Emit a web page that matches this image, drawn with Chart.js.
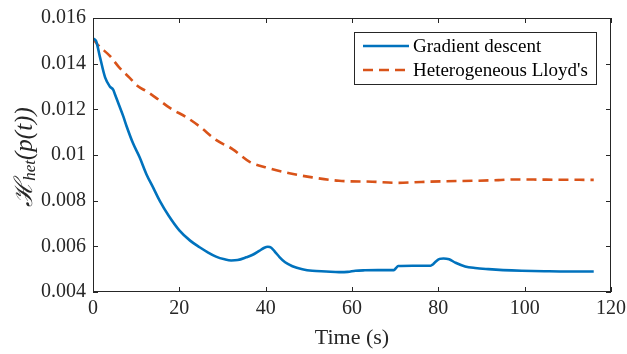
<!DOCTYPE html>
<html>
<head>
<meta charset="utf-8">
<script src="https://cdn.jsdelivr.net/npm/chart.js@4.4.1/dist/chart.umd.min.js"></script>
<style>
  html, body { margin: 0; padding: 0; background: #fff; }
  #wrap { width: 627px; height: 354px; }
</style>
</head>
<body>
<div id="wrap"><canvas id="hetChart" width="627" height="354"></canvas></div>
<script>
// Gradient descent run
const gdTime = [0, 0.7, 1.6, 2.8, 3.9, 4.7, 5.1, 6, 7, 7.8, 9.3, 10.8, 12.4, 14, 15.5, 17.5, 20,
  22.5, 24.7, 26.5, 28.5, 30.5, 32, 33.5, 35.5, 37, 38.5, 39.7, 40.5, 41.3, 42.2, 43.2, 44.5,
  46.2, 48.5, 50.8, 54, 57, 59, 60.8, 63, 66, 69.7, 70.2, 70.7, 74, 78.2, 78.8, 79.5, 80.3,
  81.2, 82.5, 84, 86.2, 88.5, 91.6, 95, 99.3, 105, 110, 116];
const gdValue = [0.01510, 0.01500, 0.01430, 0.01340, 0.01300, 0.01285, 0.01265, 0.01220, 0.01170,
  0.01125, 0.01050, 0.00990, 0.00915, 0.00855, 0.00798, 0.00735, 0.00670,
  0.00625, 0.00596, 0.00575, 0.00555, 0.00543, 0.00538, 0.00540, 0.00552, 0.00563, 0.00580,
  0.00594, 0.00598, 0.00594, 0.00575, 0.00553, 0.00530,
  0.00513, 0.00500, 0.00493, 0.00490, 0.00487, 0.00488, 0.00493, 0.00495, 0.00496, 0.00496,
  0.00505, 0.00514, 0.00515, 0.00515, 0.00522, 0.00535, 0.00545,
  0.00547, 0.00543, 0.00528, 0.00512, 0.00505, 0.00500, 0.00496, 0.00493, 0.00491, 0.00490, 0.00490];

// Heterogeneous Lloyd's run
const lloydTime = [0, 1, 3.9, 6, 8.5, 10.5, 12.4, 15, 17.8, 21.6, 24.7, 28.5, 32.4, 36.2, 40.8,
  45.5, 50.8, 57, 64.7, 70.5, 76, 81.6, 88, 93.9, 97.8, 105, 116];
const lloydValue = [0.01510, 0.01485, 0.01434, 0.01385, 0.01338, 0.01300, 0.01279, 0.01245,
  0.01206, 0.01166, 0.01125, 0.01066, 0.01025, 0.00971, 0.00942, 0.00920, 0.00902, 0.00887,
  0.00883, 0.00878, 0.00882, 0.00885, 0.00887, 0.00890, 0.00893, 0.00892, 0.00891];

const seriesNames = ['Gradient descent', "Heterogeneous Lloyd's"];
const xTicks = [0, 20, 40, 60, 80, 100, 120];
const yTicks = [0.004, 0.006, 0.008, 0.01, 0.012, 0.014, 0.016];

const axisColor = '#262626';
const serif = '"Liberation Serif", "Times New Roman", serif';

function toPoints(xs, ys) {
  return xs.map((x, i) => ({ x: x, y: ys[i] }));
}

// box around the plot with inward ticks on all four sides
const boxPlugin = {
  id: 'box',
  afterDraw(chart) {
    const { ctx, chartArea: a, scales } = chart;
    ctx.save();
    ctx.strokeStyle = axisColor;
    ctx.lineWidth = 1;
    ctx.strokeRect(a.left + 0.5, a.top + 0.5, a.right - a.left - 1, a.bottom - a.top - 1);
    ctx.beginPath();
    xTicks.forEach(v => {
      const px = Math.round(scales.x.getPixelForValue(v)) + 0.5;
      ctx.moveTo(px, a.bottom); ctx.lineTo(px, a.bottom - 5);
      ctx.moveTo(px, a.top); ctx.lineTo(px, a.top + 5);
    });
    yTicks.forEach(v => {
      const py = Math.round(scales.y.getPixelForValue(v)) + 0.5;
      ctx.moveTo(a.left, py); ctx.lineTo(a.left + 5, py);
      ctx.moveTo(a.right, py); ctx.lineTo(a.right - 5, py);
    });
    ctx.stroke();
    ctx.restore();
  }
};

// legend drawn inside the plot, top right
const legendBoxPlugin = {
  id: 'legendBox',
  afterDraw(chart) {
    const { ctx, chartArea: a } = chart;
    const right = a.right - 15, top = a.top + 14, w = 242, h = 52;
    const left = right - w;
    ctx.save();
    ctx.fillStyle = '#fff';
    ctx.fillRect(left, top, w, h);
    ctx.strokeStyle = axisColor;
    ctx.lineWidth = 1;
    ctx.strokeRect(left + 0.5, top + 0.5, w, h);
    chart.data.datasets.forEach((ds, i) => {
      const y = top + 14 + i * 24;
      ctx.beginPath();
      ctx.strokeStyle = ds.borderColor;
      ctx.lineWidth = ds.borderWidth;
      ctx.setLineDash(ds.borderDash || []);
      ctx.moveTo(left + 9, y);
      ctx.lineTo(left + 55, y);
      ctx.stroke();
      ctx.setLineDash([]);
      ctx.fillStyle = '#000';
      ctx.font = '19px ' + serif;
      ctx.textBaseline = 'middle';
      ctx.fillText(ds.label, left + 59, y + 1);
    });
    ctx.restore();
  }
};

// y axis title with subscript
const yTitlePlugin = {
  id: 'yTitle',
  afterDraw(chart) {
    const { ctx, chartArea: a } = chart;
    const parts = [
      { t: '\u210B', f: 'italic 25px "DejaVu Serif", ' + serif, dy: 0 },
      { t: 'het', f: 'italic 17px ' + serif, dy: 6 },
      { t: '(p(t))', f: 'italic 25px ' + serif, dy: 0 }
    ];
    ctx.save();
    let total = 0;
    parts.forEach(p => { ctx.font = p.f; p.w = ctx.measureText(p.t).width; total += p.w; });
    ctx.translate(25, (a.top + a.bottom) / 2 + 2);
    ctx.rotate(-Math.PI / 2);
    ctx.fillStyle = axisColor;
    ctx.textBaseline = 'middle';
    let x = -total / 2;
    parts.forEach(p => {
      ctx.font = p.f;
      ctx.fillText(p.t, x, p.dy);
      x += p.w;
    });
    ctx.restore();
  }
};

window.onload = function () {
  const ctx = document.getElementById('hetChart').getContext('2d');
  new Chart(ctx, {
    type: 'line',
    data: {
      datasets: [{
        label: seriesNames[0],
        data: toPoints(gdTime, gdValue),
        borderColor: '#0072BD',
        borderWidth: 2.6,
        pointRadius: 0,
        fill: false,
        cubicInterpolationMode: 'monotone'
      }, {
        label: seriesNames[1],
        data: toPoints(lloydTime, lloydValue),
        borderColor: '#D95319',
        borderWidth: 2.6,
        borderDash: [10, 6],
        pointRadius: 0,
        fill: false,
        cubicInterpolationMode: 'monotone'
      }]
    },
    options: {
      responsive: false,
      animation: false,
      layout: { padding: { left: 0, right: 16, top: 18, bottom: 0 } },
      plugins: {
        legend: { display: false },
        tooltip: { enabled: false }
      },
      scales: {
        x: {
          type: 'linear',
          min: 0,
          max: 120,
          afterBuildTicks(scale) { scale.ticks = xTicks.map(v => ({ value: v })); },
          afterFit(scale) {
            scale.height = 62;
            scale.paddingLeft = 0;
            scale.paddingRight = 0;
          },
          grid: { display: false, drawTicks: false },
          border: { display: false },
          ticks: {
            color: axisColor,
            font: { family: serif, size: 20 },
            padding: 5,
            maxRotation: 0
          },
          title: {
            display: true,
            text: 'Time (s)',
            color: axisColor,
            font: { family: serif, size: 22 },
            padding: { top: 0, bottom: 3 }
          }
        },
        y: {
          type: 'linear',
          min: 0.004,
          max: 0.016,
          afterBuildTicks(scale) { scale.ticks = yTicks.map(v => ({ value: v })); },
          afterFit(scale) {
            scale.width = 93;
            scale.paddingTop = 0;
            scale.paddingBottom = 0;
          },
          grid: { display: false, drawTicks: false },
          border: { display: false },
          ticks: {
            color: axisColor,
            font: { family: serif, size: 20 },
            padding: 7,
            callback: v => String(parseFloat(v.toFixed(3)))
          }
        }
      }
    },
    plugins: [boxPlugin, legendBoxPlugin, yTitlePlugin]
  });
};
</script>
</body>
</html>
